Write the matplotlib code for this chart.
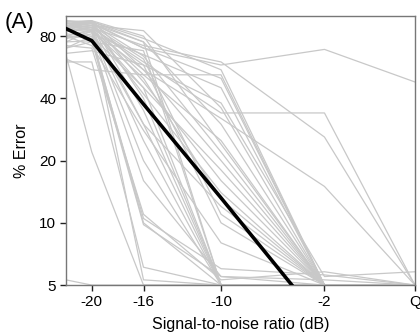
import numpy as np
import matplotlib
matplotlib.use("Agg")
import matplotlib.pyplot as plt

plt.rcParams['font.family'] = ['Liberation Sans', 'DejaVu Sans']

# SNR levels (dB); "Q" = quiet, placed at +5 on the axis
snr = [-22, -20, -16, -10, -2, 5]
tick_pos = [-20, -16, -10, -2, 5]
tick_lab = ['-20', '-16', '-10', '-2', 'Q']
yticks = [5, 10, 20, 40, 80]

# per-listener % error at each SNR level
subjects = [
    [88, 92, 70, 58, 69, 48],
    [85, 88, 60, 34, 34, 5],
    [90, 88, 72, 60, 26, 5],
    [80, 85, 55, 32, 15, 5],
    [92, 94, 78, 55, 5, 5],
    [94, 95, 80, 24, 5, 5],
    [90, 92, 75, 5, 5, 5],
    [88, 93, 70, 50, 5, 5],
    [86, 90, 62, 11, 5, 5],
    [84, 88, 58, 10, 5, 5],
    [75, 85, 50, 13, 5, 5],
    [70, 80, 45, 5, 5, 5],
    [90, 94, 40, 5, 5, 5],
    [92, 92, 35, 5, 5, 5],
    [88, 90, 30, 5, 5, 5],
    [85, 88, 25, 5, 5, 5],
    [80, 86, 20, 5, 5, 5],
    [78, 84, 16, 5.5, 5, 5],
    [82, 80, 10, 5, 5, 5],
    [80, 78, 10.5, 6, 5.6, 5],
    [75, 76, 9.8, 5.5, 5.3, 5],
    [72, 70, 11, 5.3, 5.8, 5],
    [65, 22, 5, 5, 5, 5],
    [5.3, 5, 5, 5, 5, 5],
    [60, 60, 6.1, 5, 5, 5],
    [90, 85, 5.3, 5, 5, 5],
    [92, 95, 55, 20, 5, 5],
    [95, 93, 48, 16, 5, 5],
    [88, 90, 52, 25, 5, 5],
    [85, 86, 45, 18, 5, 5],
    [90, 88, 42, 14, 5, 5],
    [78, 82, 65, 45, 5, 5],
    [70, 75, 68, 5, 5, 5],
    [62, 55, 52, 52, 5, 5],
    [66, 68, 58, 38, 5.5, 5.8],
    [93, 90, 85, 36, 5, 5],
    [86, 84, 30, 12, 5, 5],
    [80, 72, 28, 8, 5, 5],
    [95, 92, 64, 22, 5, 5],
    [90, 94, 75, 30, 5, 5],
]

# group fit line
mean_snr = [-22, -20, -16, -10, -2]
mean_err = [87, 76, 37.5, 13.2, 3.2]

fig = plt.figure(figsize=(4.2, 3.35), dpi=100)
ax = fig.add_axes([0.157, 0.149, 0.831, 0.803])

for s in subjects:
    ax.plot(snr, s, color='#c8c8c8', lw=0.9, zorder=1)
ax.plot(mean_snr, mean_err, color='black', lw=2.6, zorder=3)

ax.set_yscale('log', base=2)
ax.set_ylim(5, 100)
ax.set_xlim(-22, 5)
ax.set_yticks(yticks)
ax.set_yticklabels([str(v) for v in yticks])
ax.minorticks_off()
ax.set_xticks(tick_pos)
ax.set_xticklabels(tick_lab)

for sp in ax.spines.values():
    sp.set_color('#777777')
    sp.set_linewidth(1.0)
ax.tick_params(direction='out', length=4, width=1, color='#222222',
               labelsize=11, pad=3)

ax.set_xlabel('Signal-to-noise ratio (dB)', fontsize=11.5, labelpad=6)
ax.set_ylabel('% Error', fontsize=11.5, labelpad=7)
fig.text(0.012, 0.915, '(A)', fontsize=16)

fig.savefig('out.png', dpi=100)
